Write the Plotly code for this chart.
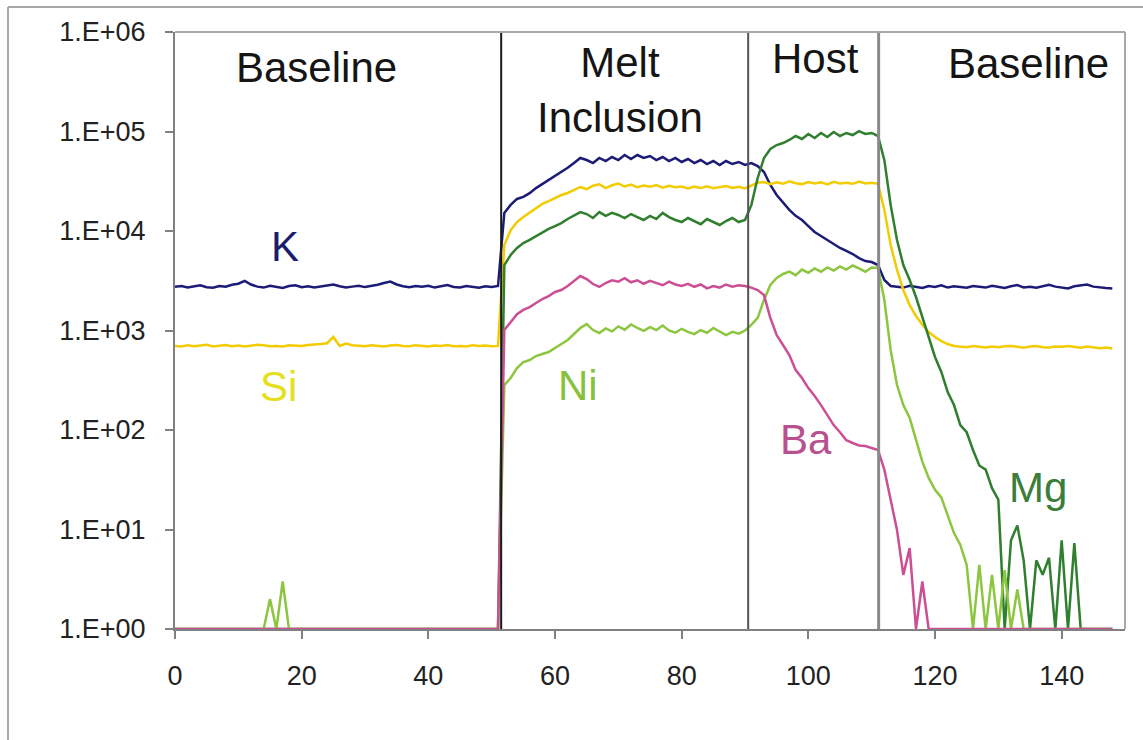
import plotly.graph_objects as go

# Time-resolved laser ablation signal (counts per second) for five elements
time_s = list(range(0, 149))

k_cps = [
    2750, 2800, 2700, 2780, 2850, 2720, 2690, 2800, 2760, 2880,
    2950, 3150, 2900, 2760, 2700, 2820, 2740, 2680, 2800, 2850,
    2720, 2780, 2700, 2760, 2840, 2900, 2780, 2700, 2760, 2820,
    2730, 2800, 2880, 3000, 3100, 2900, 2780, 2720, 2800, 2760,
    2820, 2700, 2780, 2860, 2740, 2700, 2800, 2760, 2690, 2780,
    2740, 2800,
    15200, 18300, 21000, 22000, 24000, 27000, 29600, 32500,
    35700, 39300, 43200, 48300, 54200, 51700, 48200, 54200, 50500, 55400,
    51700, 58000, 52900, 58000, 54200, 56700, 51700, 55400, 50500, 54200,
    49400, 52900, 48200, 51700, 47100, 50500, 46100, 50500, 47100, 49400,
    46100, 48200, 45000, 39200, 29000, 23000, 19100, 16300, 14200, 12900,
    11200, 9770, 8910, 8130, 7400, 6750, 6300, 5870, 5350, 4990,
    4880, 4550,
    3220, 2800,
    2750, 2700, 2820, 2760, 2680, 2800,
    2740, 2850, 2700, 2780, 2720, 2690, 2800, 2760, 2700, 2820,
    2740, 2680, 2780, 2860, 2700, 2750, 2690, 2800, 2880, 2760,
    2700, 2650, 2780, 2850, 2900, 2760, 2700, 2680, 2650,
]

si_cps = [
    700, 690, 710, 695, 705, 720, 690, 700, 715, 695,
    705, 690, 700, 720, 710, 695, 700, 690, 710, 705,
    700, 715, 720, 730, 745, 860, 700, 740, 710, 700,
    695, 710, 700, 690, 705, 715, 700, 695, 710, 700,
    690, 705, 700, 715, 695, 700, 690, 710, 700, 705,
    695, 700,
    7230, 10200, 12300, 13800, 15200, 17000, 18700, 20000,
    21500, 23000, 24100, 25800, 27700, 26400, 28500, 29500, 27000, 28800,
    30000, 28000, 29300, 27500, 28600, 27800, 29000, 27200, 28400, 27600,
    28000, 26800, 27900, 27000, 28200, 26900, 27600, 28300, 27100, 27800,
    26800, 28500, 30500, 31000, 29500, 30800, 29800, 31500, 30200, 29600,
    31000, 30000, 30800, 29400, 31200, 30100, 30600, 29800, 31400, 30000,
    30500, 29800,
    16300, 7230, 4060, 2550, 1800, 1400, 1140, 966, 860, 783, 731,
    700, 690, 680, 700, 685, 675, 690,
    680, 695, 700, 685, 670, 690, 700, 680, 675, 690,
    685, 700, 680, 670, 690, 680, 665, 675, 660,
]

mg_cps = [
    1, 1, 1, 1, 1, 1, 1, 1, 1, 1,
    1, 1, 1, 1, 1, 1, 1, 1, 1, 1,
    1, 1, 1, 1, 1, 1, 1, 1, 1, 1,
    1, 1, 1, 1, 1, 1, 1, 1, 1, 1,
    1, 1, 1, 1, 1, 1, 1, 1, 1, 1,
    1, 1,
    4550, 5740, 6750, 7570, 8130, 8910, 9770, 10500,
    11200, 12000, 13200, 14200, 15500, 14800, 13500, 15500, 14200, 15200,
    14500, 13500, 14800, 13800, 12900, 14200, 13200, 15200, 13800, 12900,
    12300, 13500, 12600, 11700, 13200, 12300, 11500, 12600, 13500, 12300,
    12900,
    18200, 34100, 54200, 66700, 73100, 76600, 82200, 90100, 84100,
    94400, 86100, 96600, 88100, 98900, 90100, 96600, 92200, 101000, 94400,
    96600, 90100,
    51700, 18200, 8130, 4550, 3220, 2170, 1370, 860, 542, 383,
    241, 178, 112, 95, 63, 44, 40, 26, 20,
    1, 7.8, 11, 4.9, 1, 4.9, 3.5, 5.2, 1, 7.8,
    1, 7.3, 1, 1, 1, 1, 1, 1,
]

ni_cps = [
    1, 1, 1, 1, 1, 1, 1, 1, 1, 1,
    1, 1, 1, 1, 1, 2.0, 1, 3.0, 1, 1,
    1, 1, 1, 1, 1, 1, 1, 1, 1, 1,
    1, 1, 1, 1, 1, 1, 1, 1, 1, 1,
    1, 1, 1, 1, 1, 1, 1, 1, 1, 1,
    1, 1,
    283, 333, 420, 482, 505, 554, 580, 608,
    667, 731, 803, 922, 1060, 1160, 1010, 944, 1050, 980,
    1100, 1020, 1150, 1060, 990, 1080, 1010, 1120, 1000, 950,
    1040, 970, 920, 1010, 950, 1060, 980, 900, 970, 930,
    1000,
    1140, 1340, 2030, 2870, 3370, 3700,
    3900, 3600, 4100, 3800, 4200, 3900, 4300, 4000, 4400, 4100,
    4500, 4200, 3900, 4300,
    4250,
    2030, 637, 283, 178, 132, 79, 48, 33, 25, 21,
    14, 9.2, 7.0, 4.4, 1, 4.4, 1, 3.5, 1, 3.9,
    1, 2.5,
    1, 1, 1, 1, 1, 1, 1, 1, 1, 1,
    1, 1, 1, 1, 1,
]

ba_cps = [
    1, 1, 1, 1, 1, 1, 1, 1, 1, 1,
    1, 1, 1, 1, 1, 1, 1, 1, 1, 1,
    1, 1, 1, 1, 1, 1, 1, 1, 1, 1,
    1, 1, 1, 1, 1, 1, 1, 1, 1, 1,
    1, 1, 1, 1, 1, 1, 1, 1, 1, 1,
    1, 1,
    1010, 1220, 1460, 1610, 1720, 1890, 2070, 2220,
    2440, 2550, 2800, 3140, 3530, 3290, 2930, 2740, 3000, 3200,
    3100, 3350, 3050, 3200, 2950, 3150, 3000, 2850, 3100, 2900,
    2800, 2950, 2750, 2900, 2650, 2800, 2700, 2900, 2750, 2850,
    2800, 2700, 2550, 2270, 1340, 900, 715, 567, 401, 333,
    264, 220, 178, 142, 112, 95, 79, 74, 70, 69,
    66, 63,
    40, 20, 9.9, 3.5, 6.5, 1, 3.0,
    1, 1, 1, 1, 1, 1, 1, 1, 1, 1,
    1, 1, 1, 1, 1, 1, 1, 1, 1, 1,
    1, 1, 1, 1, 1, 1, 1, 1, 1, 1,
]

# Ablation stage boundaries (s)
boundaries = [51.5, 90.5, 111.1]
boundary_colors = ["#1a1a1a", "#555555", "#8a8a8a"]
boundary_widths = [2, 2, 3]

y_tick_vals = [1, 10, 100, 1000, 10000, 100000, 1000000]
y_tick_text = ["1.E+00", "1.E+01", "1.E+02", "1.E+03", "1.E+04", "1.E+05", "1.E+06"]
x_tick_vals = [0, 20, 40, 60, 80, 100, 120, 140]

series = [
    ("K", k_cps, "#1c1c78"),
    ("Si", si_cps, "#f2cc00"),
    ("Mg", mg_cps, "#2f7f2f"),
    ("Ni", ni_cps, "#8cc63f"),
    ("Ba", ba_cps, "#cc4f95"),
]

FONT = "Liberation Sans, Arial, sans-serif"

fig = go.Figure()
for name, vals, color in series:
    fig.add_trace(go.Scatter(
        x=time_s, y=vals, mode="lines", name=name,
        line=dict(color=color, width=2.5),
    ))

shapes = []
for bx, bc, bw in zip(boundaries, boundary_colors, boundary_widths):
    shapes.append(dict(type="line", xref="x", yref="paper", x0=bx, x1=bx,
                       y0=0, y1=1, line=dict(color=bc, width=bw), layer="above"))
# plot-area frame (top and right edges)
shapes.append(dict(type="line", xref="paper", yref="paper", x0=0, x1=1, y0=1, y1=1,
                   line=dict(color="#a8a8a8", width=2)))
shapes.append(dict(type="line", xref="paper", yref="paper", x0=1, x1=1, y0=0, y1=1,
                   line=dict(color="#a8a8a8", width=2)))
# outer figure frame (top and left edges)
shapes.append(dict(type="line", xref="paper", yref="paper", x0=-0.1758, x1=1.02,
                   y0=1.0419, y1=1.0419, line=dict(color="#a8a8a8", width=2)))
shapes.append(dict(type="line", xref="paper", yref="paper", x0=-0.1758, x1=-0.1758,
                   y0=-0.19, y1=1.0419, line=dict(color="#a8a8a8", width=2)))

stage_labels = [
    ("Baseline", 22.4, 0.940),
    ("Melt<br>Inclusion", 70.3, 0.903),
    ("Host", 101.2, 0.956),
    ("Baseline", 134.7, 0.948),
]
annotations = []
for text, ax_, ay in stage_labels:
    annotations.append(dict(text=text, x=ax_, y=ay, xref="x", yref="paper",
                            showarrow=False, xanchor="center", yanchor="middle",
                            font=dict(family=FONT, size=42, color="#151515")))

element_labels = [
    ("K", 17.4, 3.84, "#1c1c6e"),
    ("Si", 16.3, 2.44, "#e4e01c"),
    ("Ni", 63.7, 2.45, "#86c23a"),
    ("Ba", 99.6, 1.90, "#b84f8e"),
    ("Mg", 136.2, 1.42, "#3b7d3b"),
]
for text, ax_, ay, col in element_labels:
    annotations.append(dict(text=text, x=ax_, y=ay, xref="x", yref="y",
                            showarrow=False, xanchor="center", yanchor="middle",
                            font=dict(family=FONT, size=42, color=col)))

fig.update_layout(
    width=1143, height=740,
    margin=dict(l=175, r=18, t=32, b=111),
    paper_bgcolor="white", plot_bgcolor="white",
    showlegend=False,
    shapes=shapes,
    annotations=annotations,
    xaxis=dict(
        range=[0, 150], tickvals=x_tick_vals, ticks="outside", ticklen=8,
        tickcolor="#808080", tickwidth=2, showgrid=False, zeroline=False,
        showline=True, linecolor="#808080", linewidth=2,
        tickfont=dict(family=FONT, size=27, color="#222222"),
        ticklabelstandoff=14,
    ),
    yaxis=dict(
        type="log", range=[0, 6], tickvals=y_tick_vals, ticktext=y_tick_text,
        ticks="outside", ticklen=8, tickcolor="#808080", tickwidth=2,
        showgrid=False, zeroline=False, showline=True, linecolor="#808080",
        linewidth=2, tickfont=dict(family=FONT, size=27, color="#222222"),
        ticklabelstandoff=14,
    ),
)

fig.write_html("out.html")
